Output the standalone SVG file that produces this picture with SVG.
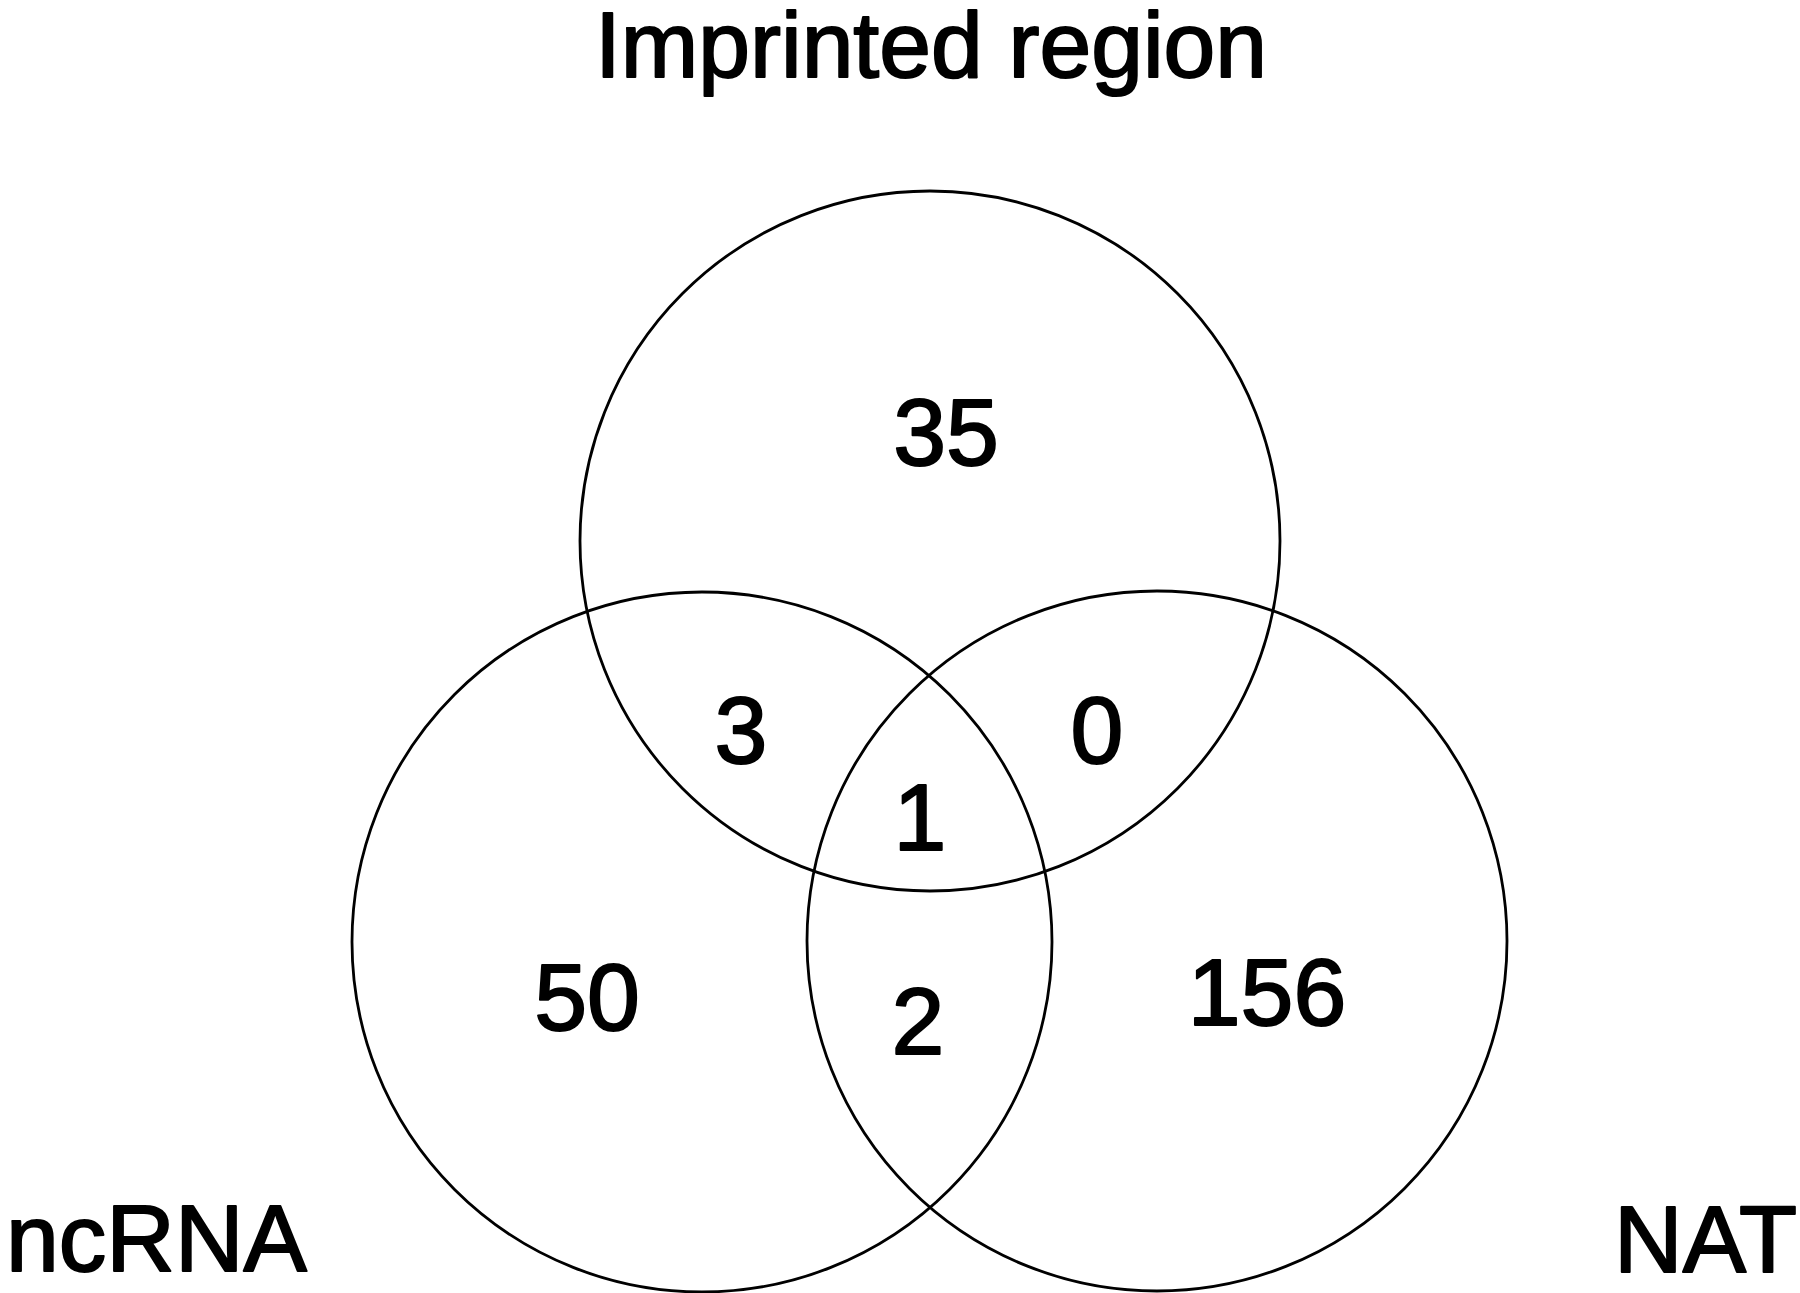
<svg xmlns="http://www.w3.org/2000/svg" width="1800" height="1293" viewBox="0 0 1800 1293">
<style>
.c{fill:none;stroke:#000;stroke-width:2.8}
.t{font-family:"Liberation Sans",Arial,sans-serif;font-size:95px;fill:#000;stroke:#000;stroke-width:2;stroke-linejoin:round}
.m{text-anchor:middle}
</style>
<rect width="1800" height="1293" fill="#fff"/>
<g id="sets">
<g id="imprinted"><circle class="c" cx="930" cy="541" r="350"/><text class="t m" x="931" y="77" style="font-size:93px">Imprinted region</text></g>
<g id="ncrna"><circle class="c" cx="702" cy="942" r="350"/><text class="t" x="6" y="1271">ncRNA</text></g>
<g id="nat"><circle class="c" cx="1157" cy="941" r="350"/><text class="t" x="1797" y="1272" text-anchor="end">NAT</text></g>
</g>
<g id="connectors"></g>
<g id="counts">
<text class="t m" x="946" y="465">35</text>
<text class="t m" x="741" y="763">3</text>
<text class="t m" x="1097" y="763">0</text>
<text class="t m" x="920" y="850">1</text>
<text class="t m" x="587" y="1030">50</text>
<text class="t m" x="918" y="1054">2</text>
<text class="t m" x="1267" y="1025">156</text>
</g>
</svg>
